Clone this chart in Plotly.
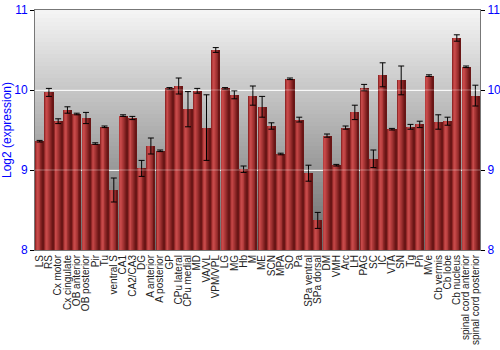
import plotly.graph_objects as go

regions = ["LS", "RS", "Cx motor", "Cx cingulate", "OB anterior", "OB posterior", "Pir", "Tu",
           "ventral S", "CA1", "CA2/CA3", "DG", "A anterior", "A posterior", "GP", "CPu lateral",
           "CPu medial", "MD", "VA/VL", "VPM/VPL", "LG", "MG", "Hb", "M", "ME", "SCN", "MPA", "SO",
           "Pa", "SPa ventral", "SPa dorsal", "DM", "VMH", "Arc", "LH", "PAG", "SC", "IC", "VTA",
           "SN", "Tg", "Pn", "MVe", "Cb vermis", "Cb lobe", "Cb nucleus", "spinal cord anterior",
           "spinal cord posterior"]
expression = [9.36, 9.97, 9.61, 9.75, 9.70, 9.65, 9.33, 9.54,
              8.75, 9.68, 9.65, 9.02, 9.30, 9.24, 10.02, 10.05,
              9.76, 9.99, 9.53, 10.50, 10.02, 9.94, 9.01, 9.93, 9.79, 9.55, 9.20, 10.14,
              9.63, 8.96, 8.37, 9.43, 9.06, 9.53, 9.72, 10.03, 9.14, 10.19, 9.51,
              10.12, 9.54, 9.57, 10.18, 9.60, 9.61, 10.65, 10.29,
              9.93]
error = [0.01, 0.05, 0.03, 0.04, 0.01, 0.07, 0.01, 0.01,
         0.15, 0.01, 0.02, 0.10, 0.10, 0.01, 0.01, 0.10,
         0.22, 0.03, 0.41, 0.03, 0.01, 0.05, 0.04, 0.12, 0.13, 0.04, 0.01, 0.01,
         0.03, 0.10, 0.10, 0.02, 0.01, 0.02, 0.09, 0.04, 0.11, 0.15, 0.01,
         0.18, 0.03, 0.04, 0.01, 0.09, 0.05, 0.04, 0.01,
         0.13]
y_ticks = [8, 9, 10, 11]

fig = go.Figure()

# bars drawn as vertical strips to imitate a horizontal shading
strip_colors = ["#922828", "#b83e3e", "#c64a4a", "#c04444", "#b03a3a",
                "#a03232", "#8e2828", "#7c1e1e", "#6a1616"]
total_w = 0.86
n = len(strip_colors)
sw = total_w / n
for i, c in enumerate(strip_colors):
    fig.add_trace(go.Bar(
        x=regions, y=expression,
        width=sw * 1.15, offset=-total_w / 2 + i * sw,
        marker=dict(color=c, line=dict(width=0)),
        hoverinfo="skip", showlegend=False,
    ))

fig.add_trace(go.Scatter(
    x=regions, y=expression, mode="markers",
    marker=dict(size=1, color="rgba(0,0,0,0)"),
    error_y=dict(type="data", array=error, color="black", thickness=1, width=3),
    showlegend=False, hoverinfo="skip",
))

# invisible trace so the right-hand axis is drawn
fig.add_trace(go.Scatter(
    x=regions, y=expression, yaxis="y2", mode="markers",
    marker=dict(size=1, color="rgba(0,0,0,0)"), showlegend=False, hoverinfo="skip",
))

# gradient background
steps = 60
top = (244, 244, 244)
bot = (106, 106, 106)
for k in range(steps):
    t = k / (steps - 1)
    col = tuple(int(round(top[j] + (bot[j] - top[j]) * t)) for j in range(3))
    fig.add_shape(type="rect", xref="x domain", yref="y domain",
                  x0=0, x1=1, y0=1 - (k + 1) / steps, y1=1 - k / steps,
                  fillcolor="rgb(%d,%d,%d)" % col, line=dict(width=0), layer="below")

for gv in [9, 10]:
    fig.add_shape(type="line", xref="x domain", yref="y", x0=0, x1=1, y0=gv, y1=gv,
                  line=dict(color="rgba(255,255,255,0.35)", width=1), layer="above")

fig.update_layout(
    width=500, height=350,
    margin=dict(l=35, r=20, t=10, b=100),
    paper_bgcolor="white", plot_bgcolor="white",
    barmode="overlay", bargap=0,
    font=dict(family="Liberation Sans, Arial, sans-serif"),
    xaxis=dict(
        tickmode="array", tickvals=regions, ticktext=regions,
        tickangle=-90, tickfont=dict(size=10, color="#222"),
        showline=True, mirror=True, linecolor="#777", linewidth=1,
        ticks="", showgrid=False, range=[-0.5, len(regions) - 0.5],
        automargin=False,
    ),
    yaxis=dict(
        range=[8, 11], tickvals=y_ticks,
        tickfont=dict(size=12, color="blue"),
        title=dict(text="Log2 (expression)", font=dict(size=12, color="blue"), standoff=8),
        showline=True, linecolor="#777", linewidth=1,
        ticks="outside", ticklen=4, tickcolor="black",
        showgrid=True, gridcolor="rgba(255,255,255,0.85)", gridwidth=1,
        zeroline=False, automargin=False,
    ),
    yaxis2=dict(
        range=[8, 11], tickvals=y_ticks, overlaying="y", side="right",
        tickfont=dict(size=12, color="blue"),
        showline=True, linecolor="#777", linewidth=1,
        ticks="outside", ticklen=4, tickcolor="black",
        showgrid=False, zeroline=False, automargin=False,
    ),
)

fig.write_html("out.html")
